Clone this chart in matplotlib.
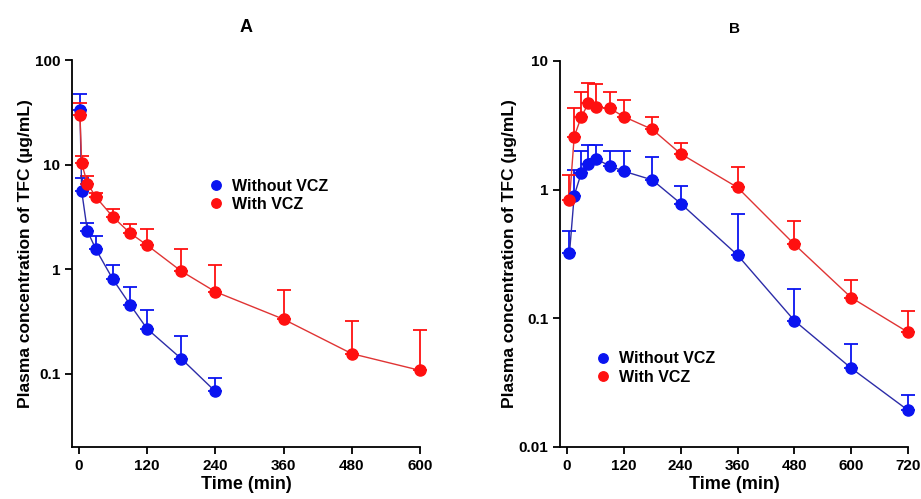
import numpy as np
import matplotlib.pyplot as plt
from matplotlib.ticker import FixedLocator, FixedFormatter, NullLocator

plt.rcParams['font.family'] = ['Liberation Sans', 'DejaVu Sans']
plt.rcParams['font.weight'] = 'bold'

# Panel A
t_a_without = [2, 5, 15, 30, 60, 90, 120, 180, 240]
c_a_without = [33, 5.6, 2.33, 1.55, 0.80, 0.46, 0.27, 0.14, 0.068]
top_a_without = [47, 7.5, 2.77, 2.07, 1.09, 0.67, 0.41, 0.23, 0.091]

t_a_with = [2, 5, 15, 30, 60, 90, 120, 180, 240, 360, 480, 600]
c_a_with = [30, 10.3, 6.6, 4.9, 3.16, 2.22, 1.70, 0.96, 0.61, 0.333, 0.156, 0.108]
top_a_with = [39, 12, 7.8, 5.4, 3.8, 2.69, 2.43, 1.55, 1.09, 0.63, 0.32, 0.265]

# Panel B
t_b = [5, 15, 30, 45, 60, 90, 120, 180, 240, 360, 480, 600, 720]
c_b_without = [0.32, 0.9, 1.35, 1.59, 1.74, 1.53, 1.39, 1.19, 0.78, 0.31, 0.096, 0.041, 0.0193]
top_b_without = [0.48, 1.43, 1.98, 2.23, 2.23, 2.0, 2.0, 1.78, 1.07, 0.65, 0.17, 0.063, 0.0255]
c_b_with = [0.83, 2.58, 3.69, 4.68, 4.4, 4.29, 3.69, 2.94, 1.90, 1.04, 0.376, 0.145, 0.078]
top_b_with = [1.3, 4.3, 5.7, 6.7, 6.6, 5.75, 4.97, 3.69, 2.3, 1.49, 0.57, 0.2, 0.115]

blue = '#0a14f0'
red = '#ff1010'
blue_line = '#2c2ca8'
red_line = '#e03434'


def draw(ax, t, c, top, col, lcol, label):
    c = np.array(c)
    up = np.array(top) - c
    eb = ax.errorbar(t, c, yerr=[np.zeros_like(up), up], fmt='none', ecolor=col,
                     elinewidth=1.3, capsize=5, capthick=1.3, zorder=2)
    for part in eb.lines[1] + eb.lines[2]:
        part.set_clip_on(False)
    ax.plot(t, c, '-', color=lcol, lw=1.0, zorder=3, clip_on=False)
    ax.plot(t, c, 'o', color=col, ms=8, label=label, zorder=4,
            linestyle='none', clip_on=False)


fig = plt.figure(figsize=(9.21, 4.99), dpi=100)
ax1 = fig.add_axes([72 / 921, 1 - 447 / 499, 348 / 921, 387 / 499])
ax2 = fig.add_axes([560 / 921, 1 - 447 / 499, 348 / 921, 386 / 499])

draw(ax1, t_a_without, c_a_without, top_a_without, blue, blue_line, 'Without VCZ')
draw(ax1, t_a_with, c_a_with, top_a_with, red, red_line, 'With VCZ')
draw(ax2, t_b, c_b_without, top_b_without, blue, blue_line, 'Without VCZ')
draw(ax2, t_b, c_b_with, top_b_with, red, red_line, 'With VCZ')

for ax in (ax1, ax2):
    ax.set_yscale('log')
    for s in ('top', 'right'):
        ax.spines[s].set_visible(False)
    for s in ('left', 'bottom'):
        ax.spines[s].set_linewidth(1.3)
    ax.yaxis.set_minor_locator(NullLocator())
    ax.tick_params(axis='both', which='major', labelsize=11, width=1.3, length=5)
    ax.set_xlabel('Time (min)', fontsize=13, fontweight='bold', labelpad=2)
    ax.set_ylabel('Plasma concentration of TFC (µg/mL)', fontsize=12.5,
                  fontweight='bold', labelpad=1)

ax1.set_xlim(-12, 600)
ax1.set_ylim(0.02, 100)
ax1.set_xticks([0, 120, 240, 360, 480, 600])
ax1.yaxis.set_major_locator(FixedLocator([0.1, 1, 10, 100]))
ax1.yaxis.set_major_formatter(FixedFormatter(['0.1', '1', '10', '100']))
ax1.set_title('A', fontsize=13, fontweight='bold', pad=20)

ax2.set_xlim(-15, 720)
ax2.set_ylim(0.01, 10)
ax2.set_xticks([0, 120, 240, 360, 480, 600, 720])
ax2.yaxis.set_major_locator(FixedLocator([0.01, 0.1, 1, 10]))
ax2.yaxis.set_major_formatter(FixedFormatter(['0.01', '0.1', '1', '10']))
ax2.set_title('B', fontsize=11, fontweight='bold', pad=20)

for ax in (ax1, ax2):
    for lab in ax.get_xticklabels() + ax.get_yticklabels():
        lab.set_fontweight('bold')

ax1.legend(loc='upper left', bbox_to_anchor=(0.35, 0.73), frameon=False,
           fontsize=11.5, handletextpad=0.5, labelspacing=0.2, handlelength=1,
           markerscale=0.85)
ax2.legend(loc='upper left', bbox_to_anchor=(0.06, 0.285), frameon=False,
           fontsize=11.5, handletextpad=0.5, labelspacing=0.2, handlelength=1,
           markerscale=0.85)

fig.savefig('out.png', dpi=100)
